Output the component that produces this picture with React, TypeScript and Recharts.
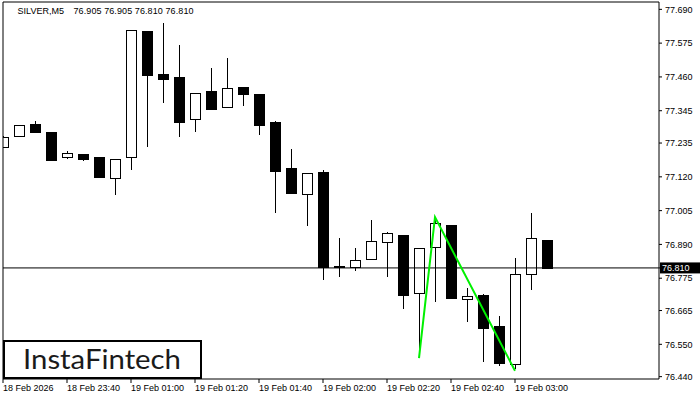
import React from "react";
import { ComposedChart, Bar, Line, XAxis, YAxis, ReferenceLine } from "recharts";

// ---- data ----
const opens = [77.222, 77.26, 77.3, 77.273, 77.187, 77.198, 77.189, 77.115, 77.187, 77.617, 77.47, 77.46, 77.316, 77.412, 77.359, 77.426, 77.402, 77.307, 77.15, 77.061, 77.137, 76.817, 76.812, 76.842, 76.897, 76.922, 76.726, 76.88, 76.957, 76.703, 76.718, 76.613, 76.482, 76.791, 76.905];
const highs = [77.258, 77.297, 77.311, 77.273, 77.208, 77.198, 77.189, 77.18, 77.62, 77.617, 77.645, 77.567, 77.405, 77.491, 77.526, 77.426, 77.402, 77.311, 77.215, 77.133, 77.144, 76.911, 76.877, 76.973, 76.931, 76.922, 76.877, 76.983, 76.957, 76.743, 76.721, 76.647, 76.844, 76.998, 76.905];
const lows = [77.22, 77.26, 77.274, 77.174, 77.18, 77.174, 77.121, 77.058, 77.144, 77.223, 77.371, 77.255, 77.274, 77.352, 77.359, 77.362, 77.264, 76.998, 77.066, 76.951, 76.769, 76.78, 76.801, 76.842, 76.78, 76.671, 76.503, 76.695, 76.706, 76.627, 76.491, 76.477, 76.465, 76.736, 76.81];
const closes = [77.256, 77.297, 77.274, 77.178, 77.201, 77.18, 77.121, 77.18, 77.62, 77.465, 77.454, 77.308, 77.405, 77.352, 77.422, 77.403, 77.298, 77.141, 77.066, 77.133, 76.812, 76.812, 76.836, 76.901, 76.928, 76.719, 76.877, 76.962, 76.706, 76.715, 76.607, 76.488, 76.789, 76.911, 76.81];

const xTickIdx = [0, 4, 8, 12, 16, 20, 24, 28, 32];
const xTickLabels = ["18 Feb 2026", "18 Feb 23:40", "19 Feb 01:00", "19 Feb 01:20", "19 Feb 01:40", "19 Feb 02:00", "19 Feb 02:20", "19 Feb 02:40", "19 Feb 03:00"];
const yTicks = [77.69, 77.575, 77.46, 77.345, 77.235, 77.12, 77.005, 76.89, 76.775, 76.665, 76.55, 76.44];
const currentPrice = 76.81;
const patternIdx = [26, 27, 32];
const patternVals = [76.503, 76.983, 76.46];
const titleSymbol = "SILVER,M5";
const titleValues = "76.905 76.905 76.810 76.810";
const yDomain = [76.432, 77.715];
const xDomain = [0, 41];

const candles = opens.map((o, i) => ({ i, open: o, high: highs[i], low: lows[i], close: closes[i] }));
const pattern = patternIdx.map((i, k) => ({ i, v: patternVals[k] }));

const FONT = "'Liberation Sans', Arial, sans-serif";

const Candle = (props: any) => {
  const { x, y, width, height, payload } = props;
  if (!payload) return null;
  const top = Math.min(y, y + height);
  const h = Math.abs(height);
  const { open, high, low, close } = payload;
  const pix = (v: number) => top + ((high - v) / (high - low)) * h;
  const cx = Math.round(x + width / 2) + 0.5;
  const bodyTop = Math.round(pix(Math.max(open, close))) + 0.5;
  const bodyBot = Math.round(pix(Math.min(open, close))) + 0.5;
  const bull = close >= open;
  const half = 5;
  return (
    <g>
      <line x1={cx} x2={cx} y1={Math.round(top)} y2={Math.round(top + h)} stroke="#000" strokeWidth={1} />
      <rect
        x={cx - half}
        y={bodyTop}
        width={half * 2}
        height={Math.max(bodyBot - bodyTop, 1)}
        fill={bull ? "#fff" : "#000"}
        stroke="#000"
        strokeWidth={1}
      />
    </g>
  );
};

const XTick = (props: any) => {
  const { x, y, payload } = props;
  const idx = xTickIdx.indexOf(payload.value);
  return (
    <text x={x} y={y} dy="0.71em" fontSize={9} fontFamily={FONT} fill="#000" textAnchor="start">
      {idx >= 0 ? xTickLabels[idx] : ""}
    </text>
  );
};

const YTick = (props: any) => {
  const { x, y, payload } = props;
  const v = payload.value;
  const isCur = Math.abs(v - currentPrice) < 1e-6;
  if (isCur) {
    return (
      <g>
        <rect x={660} y={y - 5.5} width={40} height={11} fill="#000" />
        <text x={662} y={y} dy="0.355em" fontSize={9} fontFamily={FONT} fill="#fff" textAnchor="start">
          {v.toFixed(3)}
        </text>
      </g>
    );
  }
  return (
    <text x={x + 1} y={y} dy="0.355em" fontSize={9} fontFamily={FONT} fill="#000" textAnchor="start">
      {v.toFixed(3)}
    </text>
  );
};

export default function App() {
  return (
    <div style={{ position: "absolute", left: 0, top: 0, width: 700, height: 400, background: "#fff" }}>
      <ComposedChart width={700} height={400} data={candles} margin={{ top: 2, right: 0, bottom: 0, left: 3 }}>
        <XAxis
          dataKey="i"
          type="number"
          domain={xDomain}
          allowDataOverflow
          ticks={xTickIdx}
          interval={0}
          height={21}
          tickSize={4}
          tickMargin={2}
          axisLine={{ stroke: "#000" }}
          tickLine={{ stroke: "#000" }}
          tick={<XTick />}
        />
        <YAxis
          orientation="right"
          type="number"
          domain={yDomain}
          allowDataOverflow
          ticks={[...yTicks, currentPrice]}
          interval={0}
          width={41}
          tickSize={3}
          tickMargin={2}
          axisLine={{ stroke: "#000" }}
          tickLine={{ stroke: "#000" }}
          tick={<YTick />}
        />
        <ReferenceLine y={yDomain[1]} stroke="#000" strokeWidth={1} />
        <ReferenceLine x={xDomain[0]} stroke="#000" strokeWidth={1} />
        <ReferenceLine y={currentPrice} stroke="#000" strokeWidth={1} />
        <Bar
          dataKey={(d: any) => [d.low, d.high]}
          barSize={10}
          shape={<Candle />}
          isAnimationActive={false}
        />
        <Line
          data={pattern}
          dataKey="v"
          stroke="#00f000"
          strokeWidth={2}
          dot={false}
          activeDot={false}
          isAnimationActive={false}
        />
      </ComposedChart>
      <svg style={{ position: "absolute", left: 0, top: 0 }} width={210} height={400}>
        <text x={17.5} y={13.5} fontFamily={FONT} fontSize={9} fill="#000" textLength={46.5} lengthAdjust="spacingAndGlyphs">
          {titleSymbol}
        </text>
        <text x={73.5} y={13.5} fontFamily={FONT} fontSize={9} fill="#000" textLength={120} lengthAdjust="spacing">
          {titleValues}
        </text>
        <rect x={4} y={341} width={197} height={37} fill="#fff" stroke="#000" strokeWidth={2} />
        <text
          x={23}
          y={369}
          fontFamily="Lato, 'Noto Sans', sans-serif"
          fontSize={27}
          fill="#1a1a1a"
          textLength={158}
          lengthAdjust="spacingAndGlyphs"
        >
          InstaFintech
        </text>
      </svg>
    </div>
  );
}
